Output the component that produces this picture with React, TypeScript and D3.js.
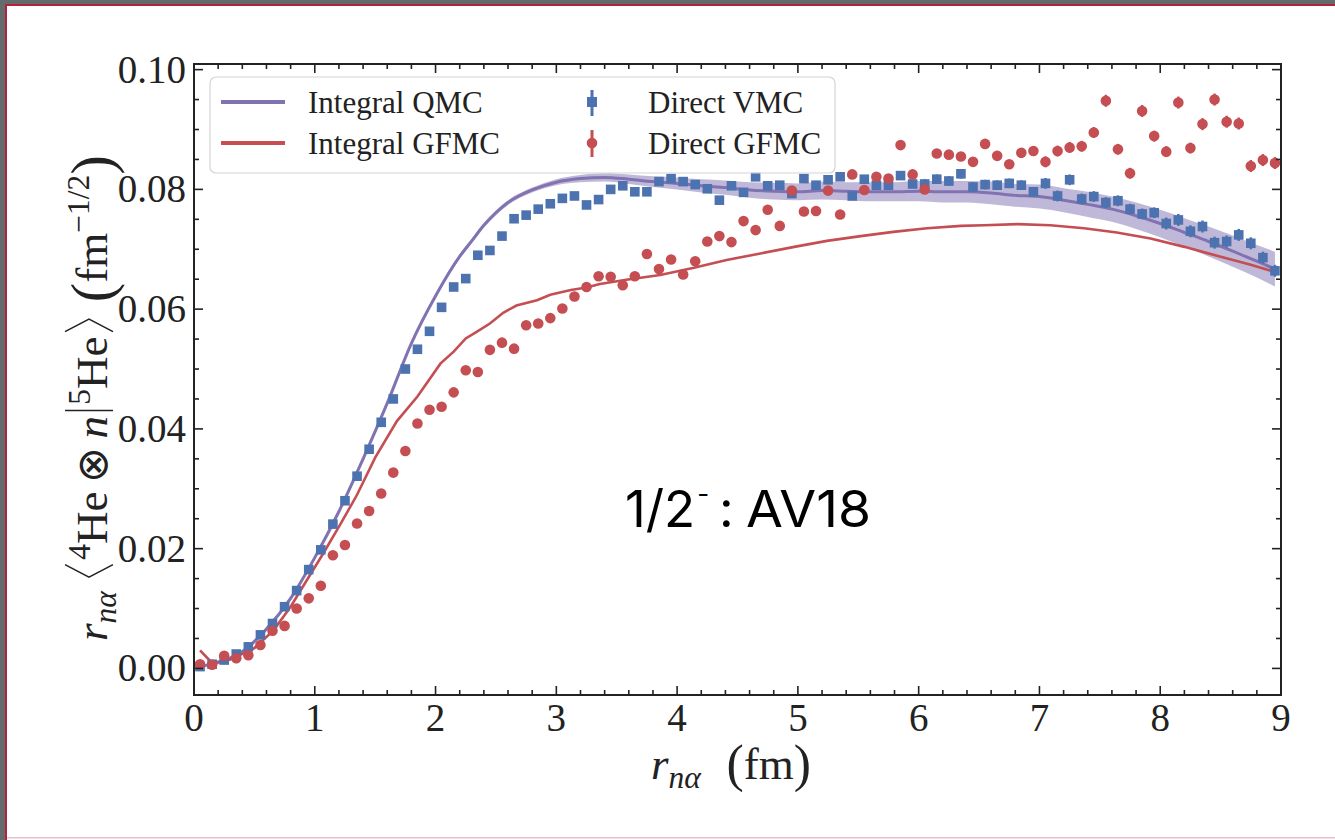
import React, { useLayoutEffect, useRef, useState, useEffect } from "react";
import * as d3 from "d3";

const W = 1335;
const H = 840;

// r grid of the direct (point) estimates
const rGrid = [
  0.05, 0.15, 0.25, 0.35, 0.45, 0.55, 0.65, 0.75, 0.85, 0.95,
  1.05, 1.15, 1.25, 1.35, 1.45, 1.55, 1.65, 1.75, 1.85, 1.95,
  2.05, 2.15, 2.25, 2.35, 2.45, 2.55, 2.65, 2.75, 2.85, 2.95,
  3.05, 3.15, 3.25, 3.35, 3.45, 3.55, 3.65, 3.75, 3.85, 3.95,
  4.05, 4.15, 4.25, 4.35, 4.45, 4.55, 4.65, 4.75, 4.85, 4.95,
  5.05, 5.15, 5.25, 5.35, 5.45, 5.55, 5.65, 5.75, 5.85, 5.95,
  6.05, 6.15, 6.25, 6.35, 6.45, 6.55, 6.65, 6.75, 6.85, 6.95,
  7.05, 7.15, 7.25, 7.35, 7.45, 7.55, 7.65, 7.75, 7.85, 7.95,
  8.05, 8.15, 8.25, 8.35, 8.45, 8.55, 8.65, 8.75, 8.85, 8.95,
];

const vmcVals = [
  0.0003, 0.0007, 0.0014, 0.0024, 0.0036, 0.0056, 0.0075, 0.0103, 0.0130, 0.0165,
  0.0198, 0.0241, 0.0280, 0.0321, 0.0366, 0.0411, 0.0450, 0.0500, 0.0533, 0.0563,
  0.0603, 0.0637, 0.0651, 0.0690, 0.0698, 0.0722, 0.0751, 0.0757, 0.0767, 0.0776,
  0.0785, 0.0789, 0.0774, 0.0783, 0.0800, 0.0806, 0.0796, 0.0796, 0.0813, 0.0818,
  0.0813, 0.0808, 0.0801, 0.0782, 0.0806, 0.0795, 0.0821, 0.0806, 0.0807, 0.0793,
  0.0818, 0.0807, 0.0816, 0.0821, 0.0789, 0.0817, 0.0807, 0.0807, 0.0823, 0.0809,
  0.0809, 0.0817, 0.0814, 0.0826, 0.0804, 0.0808, 0.0807, 0.0810, 0.0807, 0.0796,
  0.0810, 0.0789, 0.0816, 0.0784, 0.0788, 0.0778, 0.0781, 0.0767, 0.0759, 0.0761,
  0.0743, 0.0749, 0.0730, 0.0738, 0.0711, 0.0713, 0.0724, 0.0710, 0.0686, 0.0664,
];

const vmcErr = [
  0.0002, 0.0002, 0.0002, 0.0002, 0.0002, 0.0002, 0.0002, 0.0002, 0.0002, 0.0002,
  0.0002, 0.0002, 0.0002, 0.0002, 0.0002, 0.0002, 0.0002, 0.0002, 0.0002, 0.0002,
  0.0003, 0.0003, 0.0003, 0.0003, 0.0003, 0.0003, 0.0003, 0.0003, 0.0003, 0.0003,
  0.0004, 0.0004, 0.0004, 0.0004, 0.0004, 0.0004, 0.0004, 0.0004, 0.0004, 0.0004,
  0.0005, 0.0005, 0.0005, 0.0005, 0.0005, 0.0005, 0.0005, 0.0005, 0.0005, 0.0005,
  0.0006, 0.0006, 0.0006, 0.0006, 0.0006, 0.0006, 0.0006, 0.0006, 0.0006, 0.0006,
  0.0008, 0.0008, 0.0008, 0.0008, 0.0008, 0.0008, 0.0008, 0.0008, 0.0008, 0.0008,
  0.0009, 0.0009, 0.0009, 0.0009, 0.0009, 0.0009, 0.0009, 0.0009, 0.0009, 0.0009,
  0.0010, 0.0010, 0.0010, 0.0010, 0.0010, 0.0010, 0.0010, 0.0010, 0.0010, 0.0010,
];

const gfmcVals = [
  0.0007, 0.0006, 0.0021, 0.0017, 0.0022, 0.0039, 0.0063, 0.0071, 0.0100, 0.0117,
  0.0138, 0.0189, 0.0206, 0.0242, 0.0263, 0.0292, 0.0327, 0.0363, 0.0409, 0.0432,
  0.0437, 0.0461, 0.0498, 0.0495, 0.0532, 0.0544, 0.0534, 0.0573, 0.0576, 0.0585,
  0.0601, 0.0621, 0.0637, 0.0655, 0.0654, 0.0640, 0.0655, 0.0692, 0.0667, 0.0683,
  0.0658, 0.0680, 0.0713, 0.0722, 0.0712, 0.0747, 0.0732, 0.0766, 0.0739, 0.0798,
  0.0763, 0.0764, 0.0798, 0.0758, 0.0825, 0.0799, 0.0821, 0.0818, 0.0874, 0.0825,
  0.0800, 0.0860, 0.0858, 0.0855, 0.0846, 0.0876, 0.0856, 0.0842, 0.0861, 0.0864,
  0.0846, 0.0864, 0.0870, 0.0872, 0.0895, 0.0948, 0.0867, 0.0827, 0.0931, 0.0889,
  0.0863, 0.0945, 0.0869, 0.0909, 0.0950, 0.0913, 0.0910, 0.0839, 0.0849, 0.0844,
];

const gfmcErr = [
  0.0002, 0.0002, 0.0002, 0.0002, 0.0002, 0.0002, 0.0002, 0.0002, 0.0002, 0.0002,
  0.0002, 0.0002, 0.0002, 0.0002, 0.0002, 0.0002, 0.0002, 0.0002, 0.0002, 0.0002,
  0.0003, 0.0003, 0.0003, 0.0003, 0.0003, 0.0003, 0.0003, 0.0003, 0.0003, 0.0003,
  0.0004, 0.0004, 0.0004, 0.0004, 0.0004, 0.0004, 0.0004, 0.0004, 0.0004, 0.0004,
  0.0005, 0.0005, 0.0005, 0.0005, 0.0005, 0.0005, 0.0005, 0.0005, 0.0005, 0.0005,
  0.0006, 0.0006, 0.0006, 0.0006, 0.0006, 0.0006, 0.0006, 0.0006, 0.0006, 0.0006,
  0.0007, 0.0007, 0.0007, 0.0007, 0.0007, 0.0007, 0.0007, 0.0007, 0.0007, 0.0007,
  0.0009, 0.0009, 0.0009, 0.0009, 0.0009, 0.0010, 0.0009, 0.0009, 0.0010, 0.0009,
  0.0009, 0.0010, 0.0009, 0.0010, 0.0010, 0.0010, 0.0010, 0.0010, 0.0010, 0.0010,
];

// Integral QMC (line + uncertainty band)
const qmcR = [
  0.05, 0.2, 0.4, 0.6, 0.8, 1.0, 1.2, 1.4, 1.6, 1.8,
  2.0, 2.2, 2.3, 2.4, 2.5, 2.6, 2.8,
  3.0, 3.2, 3.4, 3.6, 3.8, 4.0, 4.2, 4.4, 4.6, 4.8,
  5.0, 5.2, 5.4, 5.6, 5.8, 6.0, 6.2, 6.4, 6.6, 6.8,
  7.0, 7.2, 7.4, 7.6, 7.8, 8.0, 8.2, 8.4, 8.6, 8.8, 8.95,
];
const qmcV = [
  0.0003, 0.0010, 0.0028, 0.0066, 0.0117, 0.0185, 0.0262, 0.0350, 0.0443, 0.0543,
  0.0622, 0.0688, 0.0714, 0.0740, 0.0761, 0.0778, 0.0799,
  0.0812, 0.0818, 0.0820, 0.0817, 0.0813, 0.0810, 0.0806, 0.0803, 0.0799, 0.0797,
  0.0796, 0.0798, 0.0797, 0.0796, 0.0796, 0.0797, 0.0796, 0.0796, 0.0794, 0.0790,
  0.0788, 0.0782, 0.0775, 0.0767, 0.0756, 0.0743, 0.0728, 0.0713, 0.0697, 0.0680, 0.0667,
];
const qmcBand = [
  0.0003, 0.0003, 0.0003, 0.0003, 0.0003, 0.0003, 0.0003, 0.0003, 0.0003, 0.0003,
  0.0004, 0.0004, 0.0004, 0.0004, 0.0004, 0.0004, 0.0004,
  0.0005, 0.0006, 0.0007, 0.0008, 0.0009, 0.0010, 0.0011, 0.0012, 0.0013, 0.0014,
  0.0014, 0.0015, 0.0015, 0.0016, 0.0016, 0.0017, 0.0018, 0.0018, 0.0019, 0.0019,
  0.0020, 0.0020, 0.0021, 0.0021, 0.0022, 0.0023, 0.0024, 0.0025, 0.0026, 0.0027, 0.0029,
];

// Integral GFMC line
const gfR = [
  0.05, 0.15, 0.3, 0.5, 0.66, 0.8, 0.93, 1.07, 1.21, 1.35,
  1.5, 1.68, 1.85, 2.04, 2.15, 2.25, 2.34, 2.45, 2.56, 2.67,
  2.84, 2.95, 3.12, 3.25, 3.36, 3.58, 3.86, 4.14, 4.41, 4.69,
  4.97, 5.24, 5.52, 5.79, 6.07, 6.35, 6.54, 6.82, 7.09, 7.37,
  7.64, 7.92, 8.2, 8.47, 8.75, 8.95,
];
const gfV = [
  0.0030, 0.0009, 0.0015, 0.0034, 0.0064, 0.0103, 0.0146, 0.0192, 0.0240, 0.0290,
  0.0352, 0.0413, 0.0454, 0.0509, 0.0529, 0.0551, 0.0562, 0.0576, 0.0594, 0.0606,
  0.0615, 0.0624, 0.0632, 0.0636, 0.0642, 0.0649, 0.0657, 0.0669, 0.0682, 0.0693,
  0.0704, 0.0714, 0.0722, 0.0729, 0.0735, 0.0739, 0.0740, 0.0742, 0.0740, 0.0735,
  0.0728, 0.0718, 0.0704, 0.0689, 0.0674, 0.0662,
];

const xTickVals = [0, 1, 2, 3, 4, 5, 6, 7, 8, 9];
const yTickVals = [0, 0.02, 0.04, 0.06, 0.08, 0.1];

const C_PURPLE = "#8172B2";
const C_RED = "#C44E52";
const C_BLUE = "#4C72B0";
const INK = "#222";

const SERIF = "'Liberation Serif', 'DejaVu Serif', serif";
const MATHSYM = "'DejaVu Sans', 'DejaVu Serif', sans-serif";

type Seg = {
  t: string;
  size: number;
  shift: number;
  italic?: boolean;
  font?: string;
  delim?: "langle" | "rangle" | "bar";
};

function MathText({
  segs,
  delimTop,
  delimBottom,
  ...rest
}: {
  segs: Seg[];
  delimTop?: number;
  delimBottom?: number;
  [k: string]: any;
}) {
  const ref = useRef<SVGTextElement>(null);
  const [boxes, setBoxes] = useState<{ kind: string; x: number; w: number }[]>([]);

  const measure = () => {
    const el = ref.current;
    if (!el) return;
    let idx = 0;
    const out: { kind: string; x: number; w: number }[] = [];
    segs.forEach((s) => {
      if (s.delim) {
        try {
          const b = el.getExtentOfChar(idx);
          out.push({ kind: s.delim, x: b.x, w: b.width });
        } catch (e) {
          /* ignore */
        }
      }
      idx += Array.from(s.t).length;
    });
    setBoxes(out);
  };

  useLayoutEffect(measure, []);
  useEffect(() => {
    const f = (document as any).fonts;
    if (f && f.ready) f.ready.then(measure);
  }, []);

  let prev = 0;
  const top = delimTop ?? -40;
  const bot = delimBottom ?? 8;
  const mid = (top + bot) / 2;
  const { transform, ...textRest } = rest;
  return (
    <g transform={transform}>
      <text ref={ref} {...textRest}>
        {segs.map((s, i) => {
          const dy = s.shift - prev;
          prev = s.shift;
          return (
            <tspan
              key={i}
              dy={dy}
              fontSize={s.size}
              fontStyle={s.italic ? "italic" : "normal"}
              fontFamily={s.font || SERIF}
            >
              {s.t}
            </tspan>
          );
        })}
      </text>
      <g fill="none" stroke={INK} strokeWidth={1.5} strokeLinejoin="miter">
        {boxes.map((b, i) => {
          if (b.kind === "langle") {
            return (
              <path
                key={i}
                d={`M${b.x + b.w * 0.78},${top} L${b.x + b.w * 0.22},${mid} L${b.x + b.w * 0.78},${bot}`}
              />
            );
          }
          if (b.kind === "rangle") {
            return (
              <path
                key={i}
                d={`M${b.x + b.w * 0.22},${top} L${b.x + b.w * 0.78},${mid} L${b.x + b.w * 0.22},${bot}`}
              />
            );
          }
          return <path key={i} d={`M${b.x + b.w / 2},${top} L${b.x + b.w / 2},${bot}`} />;
        })}
      </g>
    </g>
  );
}

export default function App() {
  const x = d3.scaleLinear().domain([0, 9]).range([194, 1281]);
  const y = d3.scaleLinear().domain([-0.00444, 0.10094]).range([695, 64]);
  const [x0, x1] = x.range();
  const [y0, y1] = y.range(); // y0 bottom, y1 top

  const xMinor = d3.range(0, 9.0001, 0.2).filter((v) => Math.abs(v - Math.round(v)) > 1e-6);
  const yMinor = d3.range(0, 0.1001, 0.005).filter((v) => Math.abs(v / 0.02 - Math.round(v / 0.02)) > 1e-6);

  const bandArea = d3
    .area<number>()
    .x((_, i) => x(qmcR[i]))
    .y0((_, i) => y(qmcV[i] - qmcBand[i]))
    .y1((_, i) => y(qmcV[i] + qmcBand[i]))
    .curve(d3.curveMonotoneX);
  const qmcLine = d3
    .line<number>()
    .x((_, i) => x(qmcR[i]))
    .y((d) => y(d))
    .curve(d3.curveMonotoneX);
  const gfLine = d3
    .line<number>()
    .x((_, i) => x(gfR[i]))
    .y((d) => y(d))
    .curve(d3.curveLinear);

  const majorLen = 9;
  const minorLen = 5;

  const fsTick = 39;
  const fsY = 45;
  const fsX = 45;

  const yLabelSegs: Seg[] = [
    { t: "r", size: fsY, shift: 0, italic: true },
    { t: "nα", size: fsY * 0.7, shift: 9, italic: true },
    { t: "\u2009", size: fsY, shift: 0 },
    { t: "\u2002", size: fsY, shift: 0, delim: "langle" },
    { t: "4", size: fsY * 0.7, shift: -17 },
    { t: "He", size: fsY, shift: 0 },
    { t: "\u2009⊗\u2009", size: fsY * 0.95, shift: 0, font: MATHSYM },
    { t: "n", size: fsY, shift: 0, italic: true },
    { t: "\u2005", size: fsY, shift: 0, delim: "bar" },
    { t: "5", size: fsY * 0.7, shift: -17 },
    { t: "He", size: fsY, shift: 0 },
    { t: "\u2002", size: fsY, shift: 0, delim: "rangle" },
    { t: "\u2009(", size: fsY * 1.3, shift: 5 },
    { t: "fm", size: fsY, shift: 0 },
    { t: "−1/2", size: fsY * 0.7, shift: -18 },
    { t: ")", size: fsY * 1.3, shift: 5 },
  ];

  const xLabelSegs: Seg[] = [
    { t: "r", size: fsX, shift: 0, italic: true },
    { t: "nα", size: fsX * 0.7, shift: 9, italic: true },
    { t: "\u2002(", size: fsX * 1.15, shift: 2 },
    { t: "fm", size: fsX, shift: 0 },
    { t: ")", size: fsX * 1.15, shift: 2 },
  ];

  return (
    <svg
      width={W}
      height={H}
      viewBox={`0 0 ${W} ${H}`}
      style={{ position: "absolute", left: 0, top: 0, background: "#fff" }}
    >
      {/* page frame */}
      <rect x={0} y={0} width={W} height={H} fill="#fff" />
      <rect x={0} y={0} width={W} height={4} fill="#646c6b" />
      <rect x={0} y={0} width={5} height={H} fill="#646c6b" />
      <rect x={5} y={4} width={W - 5} height={2} fill="#b5213e" />
      <rect x={5} y={4} width={2} height={H - 4} fill="#b5213e" />
      <rect x={7} y={837} width={W - 7} height={1.5} fill="#e7bfcb" />

      {/* data */}
      <path d={bandArea(qmcV) || ""} fill={C_PURPLE} fillOpacity={0.5} stroke="none" />
      <path d={qmcLine(qmcV) || ""} fill="none" stroke={C_PURPLE} strokeWidth={3} />
      <path d={gfLine(gfV) || ""} fill="none" stroke={C_RED} strokeWidth={2.6} />

      <g>
        {rGrid.map((r, i) => (
          <g key={"v" + i}>
            <line
              x1={x(r)}
              x2={x(r)}
              y1={y(vmcVals[i] - vmcErr[i])}
              y2={y(vmcVals[i] + vmcErr[i])}
              stroke={C_BLUE}
              strokeWidth={2.5}
            />
            <rect x={x(r) - 4.8} y={y(vmcVals[i]) - 4.8} width={9.6} height={9.6} fill={C_BLUE} />
          </g>
        ))}
      </g>
      <g>
        {rGrid.map((r, i) => (
          <g key={"g" + i}>
            <line
              x1={x(r)}
              x2={x(r)}
              y1={y(gfmcVals[i] - gfmcErr[i])}
              y2={y(gfmcVals[i] + gfmcErr[i])}
              stroke={C_RED}
              strokeWidth={2.5}
            />
            <circle cx={x(r)} cy={y(gfmcVals[i])} r={5.3} fill={C_RED} />
          </g>
        ))}
      </g>

      {/* axes frame and ticks */}
      <rect x={x0} y={y1} width={x1 - x0} height={y0 - y1} fill="none" stroke={INK} strokeWidth={2} />
      <g stroke={INK} strokeWidth={1.6}>
        {xTickVals.map((v) => (
          <g key={"xt" + v}>
            <line x1={x(v)} x2={x(v)} y1={y0} y2={y0 - majorLen} />
            <line x1={x(v)} x2={x(v)} y1={y1} y2={y1 + majorLen} />
          </g>
        ))}
        {xMinor.map((v, i) => (
          <g key={"xm" + i}>
            <line x1={x(v)} x2={x(v)} y1={y0} y2={y0 - minorLen} />
            <line x1={x(v)} x2={x(v)} y1={y1} y2={y1 + minorLen} />
          </g>
        ))}
        {yTickVals.map((v) => (
          <g key={"yt" + v}>
            <line x1={x0} x2={x0 + majorLen} y1={y(v)} y2={y(v)} />
            <line x1={x1} x2={x1 - majorLen} y1={y(v)} y2={y(v)} />
          </g>
        ))}
        {yMinor.map((v, i) => (
          <g key={"ym" + i}>
            <line x1={x0} x2={x0 + minorLen} y1={y(v)} y2={y(v)} />
            <line x1={x1} x2={x1 - minorLen} y1={y(v)} y2={y(v)} />
          </g>
        ))}
      </g>

      {/* tick labels */}
      <g fontFamily={SERIF} fontSize={fsTick} fill={INK}>
        {xTickVals.map((v) => (
          <text key={"xl" + v} x={x(v)} y={731} textAnchor="middle">
            {String(v)}
          </text>
        ))}
        {yTickVals.map((v) => (
          <text key={"yl" + v} x={186} y={y(v) + 13} textAnchor="end">
            {d3.format(".2f")(v)}
          </text>
        ))}
      </g>

      {/* axis labels */}
      <MathText segs={xLabelSegs} x={731} y={779} textAnchor="middle" fill={INK} />
      <MathText
        segs={yLabelSegs}
        x={0}
        y={0}
        textAnchor="start"
        fill={INK}
        delimTop={-42}
        delimBottom={6}
        transform="translate(107,641) rotate(-90)"
      />

      {/* legend */}
      <g>
        <rect x={210} y={77} width={625} height={96} rx={6} fill="#fff" fillOpacity={0.8} stroke="#d4d4d4" strokeWidth={1.2} />
        <line x1={221} x2={285} y1={102} y2={102} stroke={C_PURPLE} strokeWidth={4} />
        <line x1={221} x2={285} y1={143} y2={143} stroke={C_RED} strokeWidth={4} />
        <line x1={592} x2={592} y1={90} y2={116} stroke={C_BLUE} strokeWidth={3} />
        <rect x={587} y={97} width={10} height={10} fill={C_BLUE} />
        <line x1={592} x2={592} y1={130} y2={157} stroke={C_RED} strokeWidth={3} />
        <circle cx={592} cy={143} r={5.3} fill={C_RED} />
        <g fontFamily={SERIF} fontSize={31} fill={INK}>
          <text x={308} y={113}>Integral QMC</text>
          <text x={308} y={154}>Integral GFMC</text>
          <text x={648} y={113}>Direct VMC</text>
          <text x={648} y={154}>Direct GFMC</text>
        </g>
      </g>

      {/* annotation */}
      <g fontFamily="Inter, 'Open Sans', sans-serif" fill="#000" fontSize={51}>
        <text x={625} y={527}>
          1/2
          <tspan dx={2} dy={-24} fontSize={26}>-</tspan>
        </text>
        <text x={719} y={527}>:</text>
        <text x={746} y={527} textLength={125} lengthAdjust="spacingAndGlyphs">AV18</text>
      </g>
    </svg>
  );
}
